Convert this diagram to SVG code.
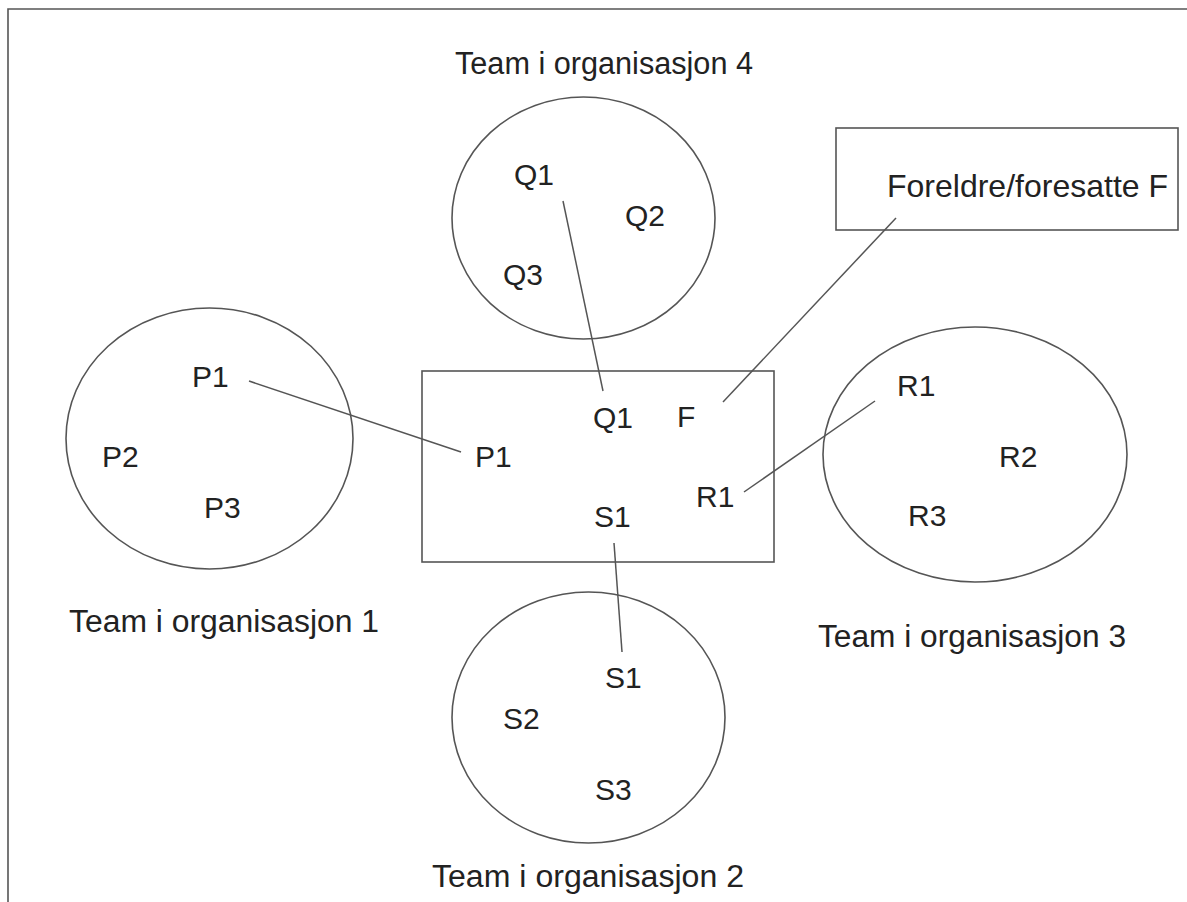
<svg xmlns="http://www.w3.org/2000/svg" width="1187" height="902" viewBox="0 0 1187 902">
<style>
.sh{fill:none;stroke:#555;stroke-width:1.6}
.ln{fill:none;stroke:#555;stroke-width:1.5}
text{font-family:"Liberation Sans",Arial,sans-serif;font-size:30px;fill:#222}
.lb{font-size:31px}
.pf{font-size:32px}
</style>
<rect width="1187" height="902" fill="#fff"/>
<path class="sh" d="M8,902 V9 H1187"/>
<g id="org4">
<ellipse class="sh" cx="583.5" cy="218" rx="131.5" ry="121"/>
<text x="514" y="185">Q1</text>
<text x="625" y="226">Q2</text>
<text x="503" y="285">Q3</text>
<text class="lb" x="455" y="74" textLength="298" lengthAdjust="spacingAndGlyphs">Team i organisasjon 4</text>
</g>
<g id="org1">
<ellipse class="sh" cx="209.5" cy="438.5" rx="143.5" ry="130.5"/>
<text x="192" y="387">P1</text>
<text x="102" y="467">P2</text>
<text x="204" y="518">P3</text>
<text class="lb" x="69" y="632" textLength="310" lengthAdjust="spacingAndGlyphs">Team i organisasjon 1</text>
</g>
<g id="org3">
<ellipse class="sh" cx="975" cy="454.5" rx="152" ry="127.5"/>
<text x="897" y="396">R1</text>
<text x="999" y="467">R2</text>
<text x="908" y="526">R3</text>
<text class="lb" x="818" y="647" textLength="308" lengthAdjust="spacingAndGlyphs">Team i organisasjon 3</text>
</g>
<g id="org2">
<ellipse class="sh" cx="588.5" cy="717.5" rx="136.5" ry="125.5"/>
<text x="605" y="688">S1</text>
<text x="503" y="729">S2</text>
<text x="595" y="800">S3</text>
<text class="lb" x="432" y="887" textLength="312" lengthAdjust="spacingAndGlyphs">Team i organisasjon 2</text>
</g>
<g id="parents">
<rect class="sh" x="836" y="128" width="342" height="102"/>
<text class="pf" x="887" y="197">Foreldre/foresatte F</text>
</g>
<g id="team">
<rect class="sh" x="422" y="371" width="352" height="191"/>
<text x="593" y="428">Q1</text>
<text x="677" y="427">F</text>
<text x="475" y="467">P1</text>
<text x="696" y="507">R1</text>
<text x="594" y="527">S1</text>
</g>
<g id="connectors">
<line class="ln" x1="249" y1="381" x2="461" y2="452"/>
<line class="ln" x1="563" y1="201" x2="603" y2="391"/>
<line class="ln" x1="896" y1="218" x2="723" y2="402"/>
<line class="ln" x1="875" y1="401" x2="744" y2="492"/>
<line class="ln" x1="614" y1="543" x2="622" y2="652"/>
</g>
</svg>
